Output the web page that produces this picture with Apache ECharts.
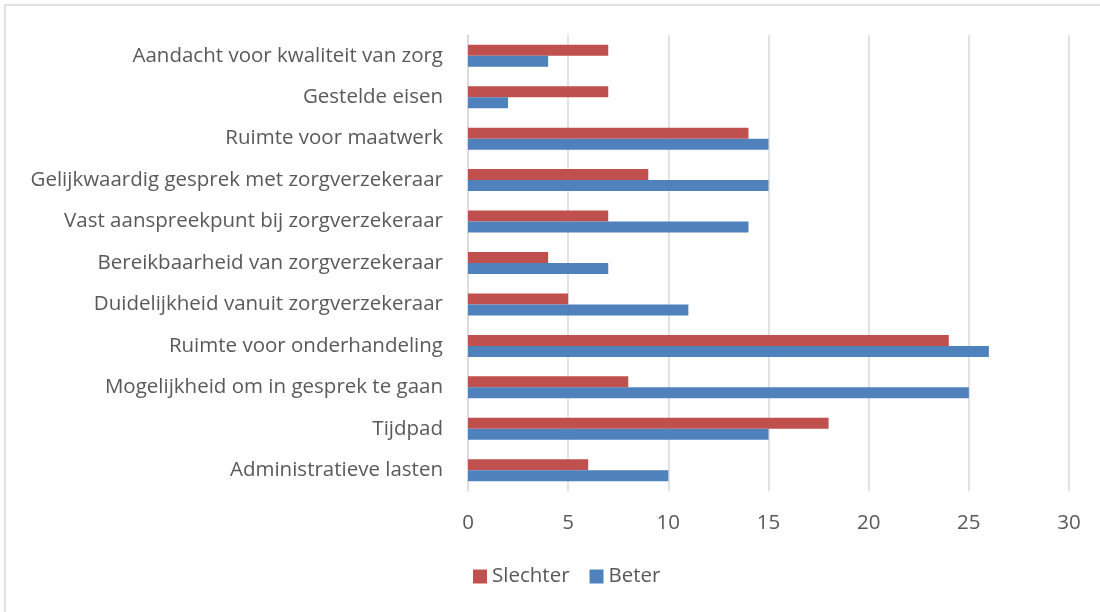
<!DOCTYPE html>
<html>
<head>
<meta charset="utf-8">
<script src="https://cdn.jsdelivr.net/npm/echarts@6/dist/echarts.min.js"></script>
<style>
  html, body { margin: 0; padding: 0; background: #fff; }
  #chart { width: 1100px; height: 612px; }
</style>
</head>
<body>
<div id="chart"></div>
<script>
  // categories, bottom to top as on the y axis
  const categories = [
    'Administratieve lasten',
    'Tijdpad',
    'Mogelijkheid om in gesprek te gaan',
    'Ruimte voor onderhandeling',
    'Duidelijkheid vanuit zorgverzekeraar',
    'Bereikbaarheid van zorgverzekeraar',
    'Vast aanspreekpunt bij zorgverzekeraar',
    'Gelijkwaardig gesprek met zorgverzekeraar',
    'Ruimte voor maatwerk',
    'Gestelde eisen',
    'Aandacht voor kwaliteit van zorg'
  ];
  const slechter = [6, 18, 8, 24, 5, 4, 7, 9, 14, 7, 7];
  const beter = [10, 15, 25, 26, 11, 7, 14, 15, 15, 2, 4];
  const xTicks = [0, 5, 10, 15, 20, 25, 30];

  const font = '"Open Sans", sans-serif';
  const textColor = '#595959';
  const gridColor = '#D9D9D9';
  const fs = 20.5;

  const myChart = echarts.init(document.getElementById('chart'));
  myChart.setOption({
    animation: false,
    textStyle: {fontFamily: font},
    grid: {left: 468, right: 31, top: 35, bottom: 121, containLabel: false},
    graphic: [{
      type: 'rect',
      shape: {x: 5, y: 5, width: 1200, height: 700},
      style: {fill: 'none', stroke: gridColor, lineWidth: 1.5},
      silent: true
    }],
    legend: {
      bottom: 20,
      left: 468,
      itemWidth: 14,
      itemHeight: 14,
      itemGap: 20,
      icon: 'rect',
      textStyle: {color: textColor, fontSize: fs, fontFamily: font}
    },
    xAxis: {
      type: 'value',
      min: xTicks[0],
      max: xTicks[xTicks.length - 1],
      interval: 5,
      axisLine: {show: false},
      axisTick: {show: false},
      splitLine: {lineStyle: {color: gridColor, width: 1.5}},
      axisLabel: {color: textColor, fontSize: fs, margin: 22, fontFamily: font}
    },
    yAxis: {
      type: 'category',
      data: categories,
      axisLine: {lineStyle: {color: gridColor, width: 1.5}},
      axisTick: {show: false},
      axisLabel: {color: textColor, fontSize: fs, margin: 25, fontFamily: font}
    },
    series: [
      {
        name: 'Slechter',
        type: 'bar',
        data: slechter,
        barWidth: 11,
        barGap: '0%',
        itemStyle: {color: '#C0504D'}
      },
      {
        name: 'Beter',
        type: 'bar',
        data: beter,
        barWidth: 11,
        barGap: '0%',
        itemStyle: {color: '#4F81BD'}
      }
    ]
  });
</script>
</body>
</html>
